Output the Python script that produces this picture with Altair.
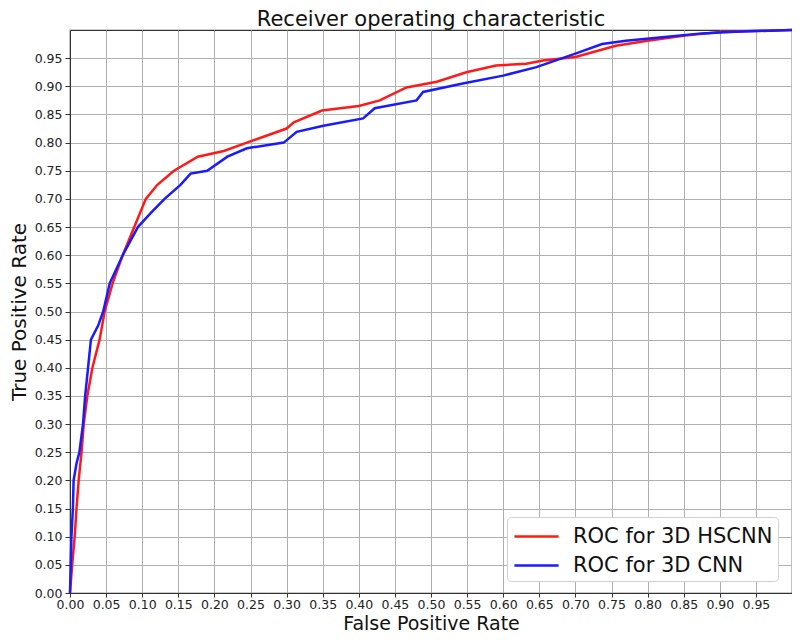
import altair as alt
import pandas as pd

# HSCNN (red) ROC points
hs_fpr = [0, 0.003, 0.0065, 0.009, 0.012, 0.016, 0.019, 0.024, 0.031, 0.041, 0.048, 0.059, 0.073,
          0.089, 0.105, 0.121, 0.144, 0.177, 0.213, 0.245, 0.30, 0.31, 0.349, 0.40, 0.429, 0.466,
          0.508, 0.549, 0.59, 0.632, 0.655, 0.70, 0.756, 0.80, 0.852, 0.903, 1.0]
hs_tpr = [0, 0.05, 0.10, 0.15, 0.20, 0.25, 0.30, 0.35, 0.40, 0.45, 0.50, 0.55, 0.60,
          0.65, 0.70, 0.725, 0.75, 0.775, 0.785, 0.80, 0.825, 0.836, 0.857, 0.865, 0.875, 0.898,
          0.908, 0.925, 0.937, 0.94, 0.946, 0.952, 0.972, 0.981, 0.99, 0.997, 1.0]

# CNN (blue) ROC points
cnn_fpr = [0, 0.001, 0.002, 0.004, 0.005, 0.009, 0.013, 0.018, 0.021, 0.025, 0.029, 0.039, 0.046,
           0.055, 0.073, 0.094, 0.112, 0.131, 0.153, 0.167, 0.19, 0.218, 0.245, 0.296, 0.314, 0.351,
           0.406, 0.422, 0.48, 0.489, 0.544, 0.6, 0.646, 0.70, 0.737, 0.77, 0.82, 0.875, 0.921, 1.0]
cnn_tpr = [0, 0.05, 0.10, 0.15, 0.20, 0.23, 0.25, 0.30, 0.35, 0.40, 0.45, 0.475, 0.50,
           0.55, 0.60, 0.65, 0.675, 0.70, 0.725, 0.745, 0.75, 0.775, 0.79, 0.80, 0.819, 0.830,
           0.843, 0.861, 0.875, 0.89, 0.905, 0.919, 0.934, 0.958, 0.975, 0.981, 0.987, 0.994, 0.997, 1.0]

series_names = ["ROC for 3D HSCNN", "ROC for 3D CNN"]
series_colors = ["#ff1a1a", "#1a1aff"]
tick_values = [round(i * 0.05, 2) for i in range(20)]

rows = []
for i, (x, y) in enumerate(zip(hs_fpr, hs_tpr)):
    rows.append({"series": series_names[0], "fpr": x, "tpr": y, "i": i})
for i, (x, y) in enumerate(zip(cnn_fpr, cnn_tpr)):
    rows.append({"series": series_names[1], "fpr": x, "tpr": y, "i": i})
df = pd.DataFrame(rows)

FONT = "DejaVu Sans"

common = dict(values=tick_values, format=".2f", labelFontSize=12.5,
              titleFontWeight="normal", labelColor="#222",
              titleColor="#111", gridColor="#b0b0b0", gridWidth=1,
              domainColor="#333", tickColor="#333",
              titleBaseline="alphabetic", labelFlush=False)

chart = alt.Chart(df).mark_line(strokeWidth=2.5).encode(
    x=alt.X("fpr:Q", title="False Positive Rate",
            scale=alt.Scale(domain=[0, 1], nice=False, zero=False),
            axis=alt.Axis(tickSize=4, labelPadding=1, titleY=36, titleFontSize=19, **common)),
    y=alt.Y("tpr:Q", title="True Positive Rate",
            scale=alt.Scale(domain=[0, 1], nice=False, zero=False),
            axis=alt.Axis(tickSize=5, labelPadding=3, titleX=-45, titleFontSize=20, **common)),
    color=alt.Color("series:N",
                    scale=alt.Scale(domain=series_names, range=series_colors),
                    legend=alt.Legend(title=None, orient="none", legendX=437, legendY=487,
                                      symbolType="M-1.7,0H1.7", symbolSize=676,
                                      symbolStrokeWidth=2.5, symbolOffset=10,
                                      labelFontSize=21, labelColor="#111", labelFont=FONT,
                                      labelLimit=0, fillColor="white", strokeColor="#d0d0d0",
                                      cornerRadius=4, padding=5, rowPadding=4, labelOffset=22)),
    order="i:Q",
).properties(
    width=722,
    height=563,
    title=alt.Title("Receiver operating characteristic", fontSize=21, fontWeight="normal",
                    font=FONT, color="#111", offset=0, dy=5),
    padding={"left": 62, "top": 22, "right": 0, "bottom": 39},
    autosize="none",
).configure_view(
    stroke="#333", strokeWidth=1.2
).configure_axis(
    labelFont=FONT, titleFont=FONT
)

chart.save("out.html", embed_options={"renderer": "svg", "actions": False})
